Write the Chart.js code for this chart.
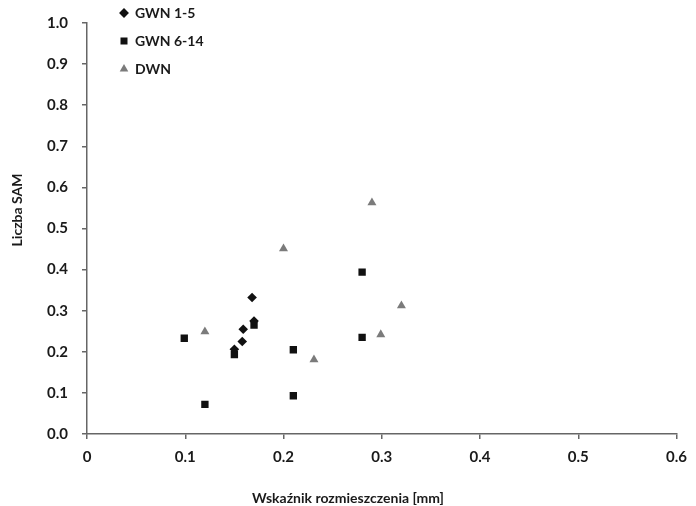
<!DOCTYPE html>
<html>
<head>
<meta charset="utf-8">
<script src="https://cdn.jsdelivr.net/npm/chart.js@4.4.1/dist/chart.umd.min.js"></script>
<style>
  html, body { margin: 0; padding: 0; background: #fff; }
  #wrap { width: 696px; height: 506px; }
</style>
</head>
<body>
<div id="wrap"><canvas id="scatterChart" width="696" height="506"></canvas></div>
<script>
// Dane
const seriesNames = ['GWN 1-5', 'GWN 6-14', 'DWN'];

const gwn15X = [0.168, 0.170, 0.159, 0.158, 0.150];
const gwn15Y = [0.332, 0.275, 0.255, 0.225, 0.206];

const gwn614X = [0.099, 0.120, 0.150, 0.170, 0.210, 0.210, 0.280, 0.280];
const gwn614Y = [0.233, 0.072, 0.193, 0.265, 0.205, 0.093, 0.394, 0.235];

const dwnX = [0.120, 0.200, 0.231, 0.290, 0.299, 0.320];
const dwnY = [0.249, 0.451, 0.181, 0.563, 0.242, 0.312];

const xTicks = [0, 0.1, 0.2, 0.3, 0.4, 0.5, 0.6];
const yTicks = [0.0, 0.1, 0.2, 0.3, 0.4, 0.5, 0.6, 0.7, 0.8, 0.9, 1.0];

const xTitle = 'Wskaźnik rozmieszczenia [mm]';
const yTitle = 'Liczba SAM';

const toPoints = (xs, ys) => xs.map((x, i) => ({ x: x, y: ys[i] }));

const FONT = "'Lato', 'Open Sans', sans-serif";
const TEXT = '#1a1a1a';
const AXIS = '#666666';

// tytuły osi rysowane ręcznie (tytuł osi X nie jest wyśrodkowany)
const axisTitles = {
    id: 'axisTitles',
    afterDraw(chart) {
        const ctx = chart.ctx;
        ctx.save();
        ctx.fillStyle = TEXT;
        ctx.font = "bold 14px " + FONT;
        ctx.textAlign = 'center';
        ctx.textBaseline = 'middle';
        ctx.fillText(xTitle, 348, 498);
        ctx.translate(17, 210);
        ctx.rotate(-Math.PI / 2);
        ctx.fillText(yTitle, 0, 0);
        ctx.restore();
    }
};

// przesunięcie legendy wewnątrz obszaru wykresu
const legendNudge = {
    id: 'legendNudge',
    afterLayout(chart) {
        if (chart.legend) {
            chart.legend.left += 19;
            chart.legend.top -= 8;
        }
    }
};

const axisGrid = { display: true, drawOnChartArea: false, drawTicks: true, color: AXIS, lineWidth: 1.5, tickLength: 5 };
const axisBorder = { display: true, color: AXIS, dash: [3, 2], width: 1.5 };

const ctx = document.getElementById('scatterChart').getContext('2d');
new Chart(ctx, {
    type: 'scatter',
    data: {
        datasets: [
            {
                label: seriesNames[0], data: toPoints(gwn15X, gwn15Y),
                pointStyle: 'rectRot', pointRadius: 4.8, pointHoverRadius: 4.8,
                backgroundColor: '#111', borderColor: '#111', borderWidth: 0
            },
            {
                label: seriesNames[1], data: toPoints(gwn614X, gwn614Y),
                pointStyle: 'rect', pointRadius: 5.2, pointHoverRadius: 5.2,
                backgroundColor: '#111', borderColor: '#111', borderWidth: 0
            },
            {
                label: seriesNames[2], data: toPoints(dwnX, dwnY),
                pointStyle: 'triangle', pointRadius: 5.2, pointHoverRadius: 5.2,
                backgroundColor: '#7b7b7b', borderColor: '#7b7b7b', borderWidth: 0
            }
        ]
    },
    options: {
        responsive: false,
        animation: false,
        layout: { padding: { left: 0, top: 20, right: 14, bottom: 0 } },
        scales: {
            x: {
                type: 'linear', min: 0, max: 0.6,
                afterBuildTicks: (scale) => { scale.ticks = xTicks.map(v => ({ value: v })); },
                afterFit: (scale) => { scale.height = 72; },
                ticks: {
                    color: TEXT, padding: 9,
                    font: { family: FONT, size: 15, weight: 'bold' },
                    callback: (v) => v === 0 ? '0' : Number(v).toFixed(1)
                },
                grid: axisGrid,
                border: axisBorder
            },
            y: {
                type: 'linear', min: 0, max: 1,
                afterBuildTicks: (scale) => { scale.ticks = yTicks.map(v => ({ value: v })); },
                afterFit: (scale) => { scale.width = 87; },
                ticks: {
                    color: TEXT, padding: 14,
                    font: { family: FONT, size: 15, weight: 'bold' },
                    callback: (v) => Number(v).toFixed(1)
                },
                grid: axisGrid,
                border: axisBorder
            }
        },
        plugins: {
            legend: {
                position: 'chartArea', align: 'start',
                labels: {
                    usePointStyle: true, boxWidth: 8, boxHeight: 7, padding: 14,
                    color: TEXT, font: { family: FONT, size: 14, weight: 'bold' }
                }
            },
            tooltip: { enabled: false }
        }
    },
    plugins: [legendNudge, axisTitles]
});
</script>
</body>
</html>
